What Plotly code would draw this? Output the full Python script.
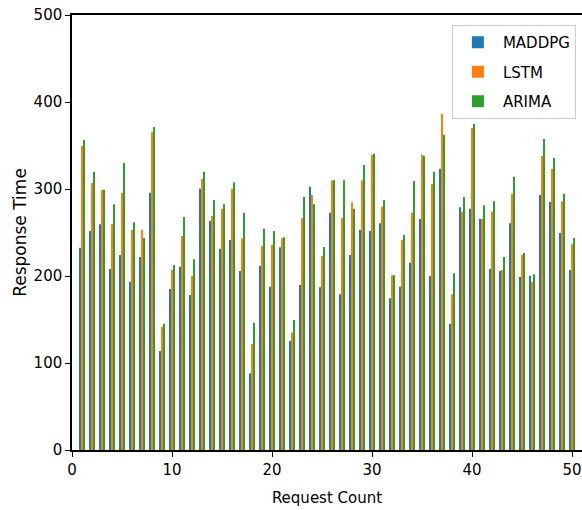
import plotly.graph_objects as go

request_count = list(range(1, 51))
maddpg = [232.6, 251.7, 259.4, 208.0, 224.1, 193.5, 221.8, 295.8, 113.8, 185.1,
          210.7, 178.2, 300.4, 263.2, 231.4, 241.4, 205.7, 88.1, 211.9, 187.7,
          233.0, 125.3, 189.7, 302.7, 187.0, 272.8, 178.9, 224.1, 253.3, 251.7,
          260.5, 174.3, 187.7, 215.3, 265.5, 200.0, 323.4, 145.2, 278.9, 277.4,
          265.5, 208.0, 205.7, 260.5, 198.9, 200.0, 293.1, 285.0, 249.4, 206.9]
lstm = [349.4, 306.9, 299.2, 259.4, 295.8, 253.3, 253.3, 365.1, 141.4, 206.9,
        246.0, 200.0, 311.5, 269.0, 277.4, 300.4, 243.3, 121.8, 234.5, 236.0,
        243.3, 135.2, 266.7, 293.1, 223.0, 310.0, 266.7, 284.7, 310.0, 339.5,
        279.7, 200.8, 241.4, 272.8, 339.5, 305.7, 386.6, 178.9, 273.9, 370.1,
        265.5, 273.9, 206.9, 294.6, 224.1, 193.5, 338.3, 323.4, 285.8, 236.4]
arima = [356.3, 319.9, 299.2, 282.4, 329.9, 261.7, 243.7, 371.3, 145.2, 212.6,
         267.8, 219.2, 319.9, 287.4, 282.4, 307.7, 272.8, 146.0, 254.4, 251.7,
         244.4, 149.4, 290.8, 282.4, 233.3, 310.0, 310.0, 277.4, 327.6, 340.6,
         287.4, 200.8, 247.1, 309.2, 338.3, 319.9, 362.5, 203.1, 290.8, 374.7,
         281.2, 285.8, 221.8, 314.2, 226.4, 201.9, 357.5, 335.6, 294.6, 243.7]

series = [("MADDPG", maddpg, "#1f77b4"), ("LSTM", lstm, "#ff7f0e"), ("ARIMA", arima, "#2ca02c")]

fnt = "DejaVu Sans"

fig = go.Figure()
for name, vals, color in series:
    fig.add_trace(go.Bar(x=request_count, y=vals, name=name, marker_color=color,
                         marker_line_width=0, legendgroup=name))

fig.update_layout(
    width=582, height=510,
    margin=dict(l=72, r=0, t=15, b=60, autoexpand=False),
    barmode="group", bargap=0.4, bargroupgap=0.0,
    plot_bgcolor="white", paper_bgcolor="white",
    font=dict(family=fnt, size=15, color="black"),
    legend=dict(x=0.988, y=0.977, xanchor="right", yanchor="top",
                bgcolor="rgba(255,255,255,0.8)", bordercolor="#cccccc", borderwidth=1,
                font=dict(family=fnt, size=15), itemwidth=40, tracegroupgap=7),
    xaxis=dict(range=[0, 51.0], tickvals=[0, 10, 20, 30, 40, 50], automargin=False,
               ticklabeloverflow="allow",
               showgrid=False, zeroline=False, showline=True, linecolor="black", linewidth=1.5,
               mirror=True, ticks="outside", ticklen=5, tickwidth=1.2, tickcolor="black",
               title=dict(text="Request Count", standoff=15, font=dict(family=fnt, size=15))),
    yaxis=dict(range=[0, 500], tickvals=[0, 100, 200, 300, 400, 500], automargin=False,
               ticklabeloverflow="allow",
               showgrid=False, zeroline=False, showline=True, linecolor="black", linewidth=1.5,
               ticks="outside", ticklen=5, tickwidth=1.2, tickcolor="black",
               title=dict(text="Response Time", standoff=3, font=dict(family=fnt, size=17))),
)

fig.write_html("out.html", config={"displayModeBar": False},
               post_script="document.body.style.margin='0';document.body.style.overflow='hidden';")
